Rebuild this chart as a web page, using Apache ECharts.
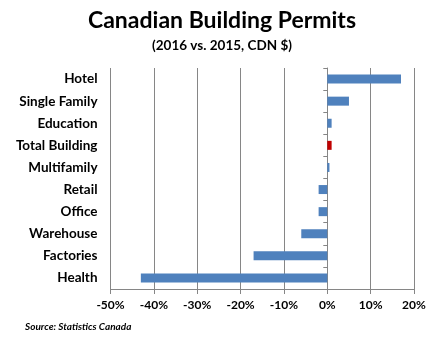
<!DOCTYPE html>
<html><head><meta charset="utf-8">
<script src="https://cdn.jsdelivr.net/npm/echarts@6/dist/echarts.min.js"></script>
<style>html,body{margin:0;padding:0;background:#fff}#c{width:444px;height:342px}</style>
</head><body><div id="c"></div>
<script>
const categories = ['Health','Factories','Warehouse','Office','Retail','Multifamily','Total Building','Education','Single Family','Hotel'];
const values = [-43, -17, -6, -2, -2, 0.5, 1, 1, 5, 17];
const highlight = 'Total Building';
const xTicks = [-50, -40, -30, -20, -10, 0, 10, 20];

const F = 'Lato, "Open Sans", sans-serif';
const chart = echarts.init(document.getElementById('c'));
chart.setOption({
  animation: false,
  title: [
    {text: 'Canadian Building Permits', left: 'center', top: 4, textStyle: {fontFamily: F, fontWeight: 'bold', fontSize: 23, color: '#000'}},
    {text: '(2016 vs. 2015, CDN $)', left: 'center', top: 34, textStyle: {fontFamily: F, fontWeight: 'bold', fontSize: 13.5, color: '#000'}},
    {text: 'Source: Statistics Canada', left: 20, top: 317, textStyle: {fontFamily: F, fontWeight: 'bold', fontStyle: 'italic', fontSize: 10, color: '#000'}}
  ],
  grid: {left: 110.5, right: 30, top: 68, bottom: 53},
  xAxis: {
    type: 'value', min: xTicks[0], max: xTicks[xTicks.length-1], interval: 10,
    axisLine: {show: true, lineStyle: {color: '#868686'}},
    axisTick: {show: true, length: 5, lineStyle: {color: '#868686'}},
    splitLine: {show: true, lineStyle: {color: '#868686'}},
    axisLabel: {formatter: v => v + '%', fontFamily: F, fontWeight: 'bold', fontSize: 12, color: '#000', margin: 10}
  },
  yAxis: [
    {type: 'category', data: categories, position: 'left',
     axisLine: {show: false, onZero: false}, axisTick: {show: false},
     axisLabel: {fontFamily: F, fontWeight: 'bold', fontSize: 13.5, color: '#000', margin: 13}},
    {type: 'category', data: categories, position: 'left',
     axisLine: {show: true, onZero: true, lineStyle: {color: '#868686'}},
     axisTick: {show: true, length: 4, lineStyle: {color: '#868686'}},
     axisLabel: {show: false}}
  ],
  series: [{
    type: 'bar', yAxisIndex: 0, barWidth: 9,
    data: values.map((v, i) => ({value: v, itemStyle: {color: categories[i] === highlight ? '#C00000' : '#4F81BD'}}))
  }]
});
</script></body></html>
